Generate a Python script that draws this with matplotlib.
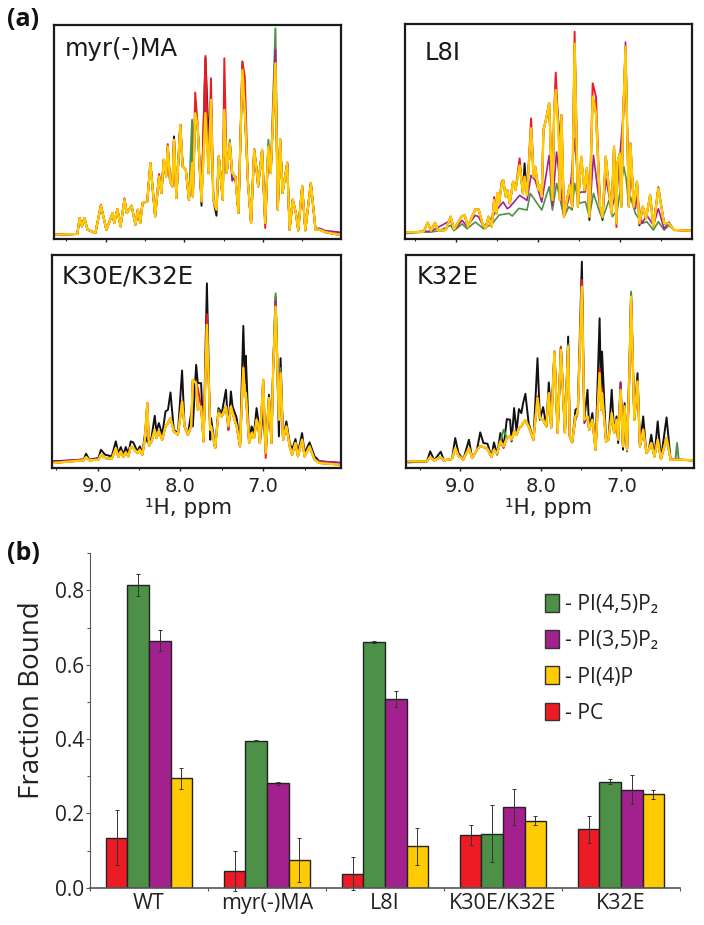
import numpy as np
import matplotlib
matplotlib.use("Agg")
import matplotlib.pyplot as plt
from matplotlib.patches import Patch

W, H = 704, 925
GREEN, PURPLE, YELLOW, RED = "#4D9048", "#A3218E", "#FFCB05", "#ED1C24"

# ---------- panel myr(-)MA ----------
myr_ppm = [9.64,9.36,9.33,9.30,9.27,9.23,9.13,9.06,8.99,8.91,
           8.89,8.85,8.81,8.76,8.73,8.67,8.62,8.59,8.56,8.53,
           8.47,8.43,8.37,8.32,8.29,8.26,8.23,8.21,8.18,8.15,
           8.13,8.10,8.05,8.02,7.98,7.94,7.90,7.89,7.86,7.83,
           7.78,7.73,7.69,7.66,7.63,7.59,7.56,7.51,7.49,7.46,
           7.42,7.39,7.35,7.31,7.26,7.23,7.19,7.15,7.11,7.07,
           7.06,7.01,6.97,6.93,6.90,6.84,6.81,6.78,6.75,6.69,
           6.66,6.62,6.58,6.55,6.50,6.46,6.39,6.33,6.28,6.21,
           6.02]
myr_yellow = [13,15,63,38,63,28,18,100,28,78,
              48,90,38,118,78,100,43,88,48,108,
              113,228,68,188,138,238,188,278,173,158,
              298,123,343,218,208,118,228,128,378,343,
              113,378,198,418,118,88,248,118,388,198,
              288,198,188,78,508,388,173,48,268,188,
              158,268,48,278,198,528,88,298,138,228,
              28,118,78,26,158,26,168,28,28,21,
              12]
myr_black_at = [8.13,7.86,7.73,7.69,7.78,7.59]
myr_black_val = [308,388,545,300,100,70]
myr_red_at = [9.06,8.76,8.32,8.21,7.86,7.73,7.66,7.49,7.26,7.23,7.11,6.97,6.69]
myr_red_val = [103,122,195,285,440,550,483,543,533,488,270,33,230]
myr_green_at = [7.90,7.83,7.42,7.26,7.01,6.93,6.84,6.78]
myr_green_val = [358,345,298,533,268,298,633,300]
myr_purple_at = [7.73,7.39,6.84,6.33,6.28,6.21,6.02]
myr_purple_val = [458,175,568,30,32,25,20]

# ---------- panel L8I ----------
l8i_ppm = [9.59,9.39,9.34,9.30,9.25,9.21,9.12,9.06,9.02,8.93,
           8.89,8.85,8.76,8.72,8.67,8.63,8.60,8.56,8.53,8.50,
           8.49,8.47,8.44,8.42,8.39,8.37,8.34,8.30,8.27,8.22,
           8.18,8.16,8.13,8.08,8.05,8.03,7.99,7.97,7.95,7.93,
           7.90,7.86,7.82,7.80,7.78,7.74,7.73,7.71,7.68,7.61,
           7.58,7.55,7.51,7.47,7.43,7.40,7.37,7.33,7.29,7.24,
           7.21,7.17,7.13,7.10,7.07,7.04,7.03,7.00,6.98,6.96,
           6.93,6.89,6.87,6.83,6.79,6.76,6.72,6.68,6.63,6.59,
           6.53,6.46,6.40,6.34,6.14]
l8i_yellow = [19,21,48,24,48,24,26,66,28,66,
              71,36,88,88,44,31,66,36,116,76,
              136,106,161,176,126,146,106,171,146,220,
              136,186,131,331,186,216,146,161,126,326,
              356,406,116,376,446,286,116,371,66,161,
              96,586,96,246,146,211,66,426,376,96,
              66,246,146,76,276,46,226,256,96,356,
              576,96,286,96,171,46,96,61,131,36,
              151,46,46,26,24]
l8i_black_at = [8.16,7.74,7.37,7.21,6.76,7.47]
l8i_black_val = [226,326,56,56,40,240]
l8i_red_at = [8.53,8.44,8.22,8.08,7.78,7.55,7.33,7.29,7.04,6.53]
l8i_red_val = [125,170,241,361,498,621,466,426,35,155]
l8i_green_ppm = [9.59,9.39,9.30,9.20,9.06,9.02,8.92,8.86,8.76,8.66,
                 8.55,8.47,8.35,8.31,8.23,8.13,8.09,7.95,7.86,7.82,
                 7.77,7.68,7.62,7.58,7.55,7.50,7.42,7.37,7.32,7.24,
                 7.21,7.13,7.09,7.03,6.95,6.92,6.89,6.87,6.81,6.73,
                 6.67,6.59,6.53,6.46,6.40,6.34,6.14]
l8i_green = [16,20,20,24,40,24,44,30,50,30,
             46,71,76,68,91,86,136,86,156,86,
             166,66,96,86,166,106,111,66,136,76,
             61,116,66,86,216,176,96,126,76,46,
             51,26,51,26,40,26,24]
l8i_purple_ppm = [9.59,9.39,9.30,9.06,9.02,8.92,8.86,8.76,8.72,8.66,
                  8.55,8.47,8.42,8.37,8.34,8.22,8.13,8.08,8.03,7.95,
                  7.86,7.82,7.77,7.68,7.61,7.55,7.50,7.47,7.42,7.40,
                  7.37,7.32,7.24,7.21,7.17,7.10,7.03,6.95,6.93,6.89,
                  6.87,6.81,6.79,6.73,6.67,6.59,6.53,6.46,6.40,6.34,
                  6.14]
l8i_purple = [17,22,22,55,26,55,36,70,66,36,
              66,96,110,90,95,130,115,190,175,110,
              250,100,260,66,130,300,135,140,140,200,
              66,250,90,66,180,90,150,400,590,96,
              200,90,130,46,70,40,90,30,50,26,
              24]

# ---------- panel K30E/K32E ----------
k30_ppm = [9.54,9.17,9.14,9.10,8.99,8.96,8.91,8.83,8.78,8.75,
           8.72,8.69,8.66,8.63,8.60,8.57,8.52,8.49,8.46,8.43,
           8.40,8.38,8.35,8.31,8.29,8.26,8.22,8.18,8.15,8.12,
           8.08,8.03,7.98,7.95,7.91,7.87,7.85,7.81,7.79,7.75,
           7.72,7.68,7.64,7.63,7.58,7.54,7.50,7.45,7.42,7.39,
           7.37,7.32,7.28,7.24,7.22,7.21,7.17,7.14,7.11,7.08,
           7.06,7.04,7.00,6.97,6.93,6.90,6.88,6.85,6.81,6.79,
           6.76,6.72,6.68,6.65,6.61,6.58,6.53,6.50,6.44,6.38,
           6.32,6.07]
k30_black = [20,25,43,25,30,55,40,35,80,43,
             63,40,63,43,80,77,50,65,45,100,
             80,75,90,157,110,135,100,170,175,227,
             115,105,293,125,100,165,125,310,255,255,
             80,555,85,150,60,180,165,235,115,230,
             185,150,65,427,255,337,75,125,105,180,
             145,75,175,55,220,75,295,515,95,330,
             85,140,75,55,87,45,105,45,77,35,
             20,15]
k30_yellow = [15,23,33,23,25,40,30,27,60,33,
              50,33,47,35,63,60,45,55,40,85,
              195,67,80,115,90,110,85,125,135,150,
              110,100,200,125,100,125,265,255,175,185,
              80,430,115,125,60,165,155,185,125,185,
              165,125,65,300,215,225,75,105,90,145,
              130,75,265,45,210,75,295,485,145,285,
              85,125,65,40,75,35,85,35,65,25,
              15,10]
k30_red_at = [7.79,7.68,7.42,7.24,6.97,6.85]
k30_red_val = [240,462,115,305,30,470]
k30_green_at = [7.68,7.24,7.00,6.85,6.79,7.54]
k30_green_val = [440,295,265,525,300,175]
k30_purple_at = [9.54,9.17,8.99,7.24,6.85,6.32,6.07]
k30_purple_val = [18,26,28,305,500,20,16]

# ---------- panel K32E ----------
k32_ppm = [9.64,9.41,9.37,9.32,9.24,9.20,9.10,9.06,9.02,8.96,
           8.89,8.85,8.79,8.75,8.71,8.66,8.61,8.58,8.54,8.50,
           8.46,8.42,8.38,8.36,8.33,8.30,8.27,8.24,8.22,8.19,
           8.15,8.09,8.04,8.01,7.97,7.93,7.90,7.87,7.83,7.79,
           7.75,7.70,7.66,7.64,7.61,7.57,7.54,7.49,7.46,7.42,
           7.40,7.36,7.32,7.27,7.25,7.24,7.19,7.16,7.12,7.09,
           7.06,7.04,7.01,6.98,6.96,6.93,6.90,6.88,6.84,6.80,
           6.77,6.73,6.69,6.66,6.63,6.59,6.55,6.51,6.44,6.39,
           6.33,6.31,6.29,6.11]
k32_black = [17,20,50,23,49,23,27,90,45,25,
             85,30,55,107,75,73,33,77,40,105,
             65,147,145,80,180,110,177,165,193,223,
             135,85,330,145,183,125,257,145,350,107,
             363,105,395,95,77,175,180,620,145,235,
             115,165,55,450,175,350,80,85,235,105,
             155,75,255,55,195,55,315,525,145,285,
             65,155,45,55,100,35,140,27,152,25,
             25,25,25,23]
k32_yellow = [20,20,33,23,33,23,27,60,37,25,
              60,30,55,65,63,57,33,55,43,80,
              65,90,95,85,110,100,120,125,135,143,
              125,85,210,150,145,125,225,120,350,105,
              355,105,365,95,77,155,165,545,145,155,
              115,145,55,285,175,225,80,85,165,105,
              145,85,235,65,185,55,285,515,145,260,
              65,115,45,55,75,35,85,27,90,25,
              25,25,25,23]
k32_red_at = [8.04,7.49,7.27,7.24,7.75,6.88]
k32_red_val = [215,565,300,235,362,510]
k32_green_at = [8.46,7.66,7.75,6.88,6.31]
k32_green_val = [115,372,365,530,75]
k32_purple_at = [8.46,7.01,7.57,6.93,7.46]
k32_purple_val = [60,258,145,50,135]

# ---------- bar chart ----------
categories = ["WT", "myr(-)MA", "L8I", "K30E/K32E", "K32E"]
pc_vals = [0.135, 0.045, 0.038, 0.142, 0.157]
pc_errs = [0.075, 0.053, 0.045, 0.027, 0.037]
pi45_vals = [0.814, 0.396, 0.662, 0.145, 0.285]
pi45_errs = [0.029, 0.002, 0.003, 0.077, 0.007]
pi35_vals = [0.665, 0.281, 0.508, 0.218, 0.264]
pi35_errs = [0.029, 0.004, 0.021, 0.048, 0.039]
pi4_vals = [0.294, 0.074, 0.111, 0.180, 0.251]
pi4_errs = [0.029, 0.060, 0.050, 0.012, 0.013]
yticks_major = [0.0, 0.2, 0.4, 0.6, 0.8]
yticks_minor = [0.1, 0.3, 0.5, 0.7, 0.9]

plt.rcParams["font.family"] = ["DejaVu Sans"]
OPEN = ["Open Sans", "DejaVu Sans"]
fig = plt.figure(figsize=(W / 100, H / 100), dpi=100)


def px_axes(x0, y0, x1, y1):
    return fig.add_axes([x0 / W, 1 - y1 / H, (x1 - x0) / W, (y1 - y0) / H])


def with_peaks(ppm, base, at, vals):
    out = np.array(base, dtype=float)
    p = np.array(ppm)
    for a, v in zip(at, vals):
        out[np.argmin(np.abs(p - a))] = v
    return out


def spectrum_axes(box, xlim, ytop, label, label_xy, show_x, xlabel_center=None):
    ax = px_axes(*box)
    ax.set_xlim(*xlim)
    ax.set_ylim(0, ytop)
    ax.set_yticks([])
    ax.set_xticks([9, 8, 7])
    ax.set_xticks([9.5, 8.5, 7.5, 6.5], minor=True)
    ax.tick_params(axis="x", which="major", length=2.5, width=1, pad=4, labelsize=14,
                   labelbottom=show_x, color="#222222", labelcolor="#222222")
    ax.tick_params(axis="x", which="minor", length=1.5, width=0.8, color="#222222")
    if show_x:
        ax.set_xticklabels(["9.0", "8.0", "7.0"])
        fig.text(xlabel_center / W, 1 - 508 / H, "\u00b9H, ppm", fontsize=15.5,
                 ha="center", va="center", color="#222222")
    for s in ax.spines.values():
        s.set_linewidth(1.6)
        s.set_color("#1a1a1a")
    fig.text(label_xy[0] / W, 1 - label_xy[1] / H, label, fontsize=17.5, va="center",
             ha="left", color="#1a1a1a")
    return ax


def draw(ax, ppm, black, green, purple, red, yellow):
    ax.plot(ppm, black, color="#111111", lw=1.4)
    if isinstance(green, tuple):
        ax.plot(green[0], green[1], color=GREEN, lw=1.2)
        ax.plot(purple[0], purple[1], color=PURPLE, lw=1.2)
    else:
        ax.plot(ppm, green, color=GREEN, lw=1.4)
        ax.plot(ppm, purple, color=PURPLE, lw=1.4)
    ax.plot(ppm, red, color=RED, lw=1.4)
    ax.plot(ppm, yellow, color=YELLOW, lw=1.7)


ax1 = spectrum_axes((53.7, 25, 340.7, 239), (9.66, 6.01), 643, "myr(-)MA", (65, 49), False)
draw(ax1, myr_ppm,
     with_peaks(myr_ppm, myr_yellow, myr_black_at, myr_black_val),
     with_peaks(myr_ppm, myr_yellow, myr_green_at, myr_green_val),
     with_peaks(myr_ppm, myr_yellow, myr_purple_at, myr_purple_val),
     with_peaks(myr_ppm, myr_yellow, myr_red_at, myr_red_val),
     myr_yellow)

ax2 = spectrum_axes((404.7, 24, 692, 238.7), (9.62, 6.12), 644, "L8I", (425, 53), False)
draw(ax2, l8i_ppm,
     with_peaks(l8i_ppm, l8i_yellow, l8i_black_at, l8i_black_val),
     (l8i_green_ppm, l8i_green),
     (l8i_purple_ppm, l8i_purple),
     with_peaks(l8i_ppm, l8i_yellow, l8i_red_at, l8i_red_val),
     l8i_yellow)

ax3 = spectrum_axes((51.7, 254.7, 341, 468), (9.555, 6.06), 641, "K30E/K32E", (62, 276), True, 189)
draw(ax3, k30_ppm, k30_black,
     with_peaks(k30_ppm, k30_yellow, k30_green_at, k30_green_val),
     with_peaks(k30_ppm, k30_yellow, k30_purple_at, k30_purple_val),
     with_peaks(k30_ppm, k30_yellow, k30_red_at, k30_red_val),
     k30_yellow)

ax4 = spectrum_axes((406, 254.7, 694, 468), (9.67, 6.10), 641, "K32E", (417, 277), True, 549)
draw(ax4, k32_ppm, k32_black,
     with_peaks(k32_ppm, k32_yellow, k32_green_at, k32_green_val),
     with_peaks(k32_ppm, k32_yellow, k32_purple_at, k32_purple_val),
     with_peaks(k32_ppm, k32_yellow, k32_red_at, k32_red_val),
     k32_yellow)

fig.text(7 / W, 1 - 20 / H, "(a)", fontsize=18, fontweight="bold", family=OPEN, va="center", color="#111111")
fig.text(7 / W, 1 - 553 / H, "(b)", fontsize=18, fontweight="bold", family=OPEN, va="center", color="#111111")

# bars
axb = px_axes(90, 553.3, 680, 887.7)
x = np.arange(len(categories)) + 0.5
bw = 21.6 / 118
series = [(pc_vals, pc_errs, RED), (pi45_vals, pi45_errs, GREEN),
          (pi35_vals, pi35_errs, PURPLE), (pi4_vals, pi4_errs, YELLOW)]
for i, (v, e, c) in enumerate(series):
    pos = x + (i - 1.5) * bw
    axb.bar(pos, v, bw, color=c, edgecolor="#222222", linewidth=1.0)
    axb.errorbar(pos, v, yerr=e, fmt="none", ecolor="#333333", elinewidth=0.7,
                 capsize=1.5, capthick=0.7, clip_on=False)
axb.set_xlim(0, 5)
axb.set_ylim(0, 0.9)
axb.set_yticks(yticks_major)
axb.set_yticks(yticks_minor, minor=True)
axb.set_yticklabels([f"{t:.1f}" for t in yticks_major], fontsize=15, family=OPEN, color="#222222")
axb.set_xticks(np.arange(6))
axb.set_xticklabels([])
axb.set_xticks(x, categories, minor=True, fontsize=15.5, family=OPEN, color="#222222")
axb.tick_params(axis="x", which="minor", length=0, pad=4)
axb.tick_params(axis="x", which="major", length=2.5, width=0.8, color="#555555")
axb.tick_params(axis="y", which="major", length=3, width=0.8, pad=1, color="#555555")
axb.tick_params(axis="y", which="minor", length=2, width=0.8, color="#555555")
axb.spines["top"].set_visible(False)
axb.spines["right"].set_visible(False)
axb.spines["left"].set_color("#555555")
axb.spines["bottom"].set_color("#555555")
axb.spines["bottom"].set_linewidth(1.2)
fig.text(32 / W, 1 - 700 / H, "Fraction Bound", rotation=90, fontsize=20, family=OPEN,
         ha="center", va="center", color="#222222")

handles = [Patch(facecolor=c, edgecolor="#333333", linewidth=1.0) for c in (GREEN, PURPLE, YELLOW, RED)]
labels = ["- PI(4,5)P\u2082", "- PI(3,5)P\u2082", "- PI(4)P", "- PC"]
fig.legend(handles, labels, loc="upper left", bbox_to_anchor=(545 / W, 1 - 594 / H),
           frameon=False, prop={"family": OPEN, "size": 15.2}, handlelength=0.66, handleheight=0.9,
           handletextpad=0.3, labelspacing=0.72, borderpad=0, borderaxespad=0, labelcolor="#222222")

fig.savefig("out.png", dpi=100)
